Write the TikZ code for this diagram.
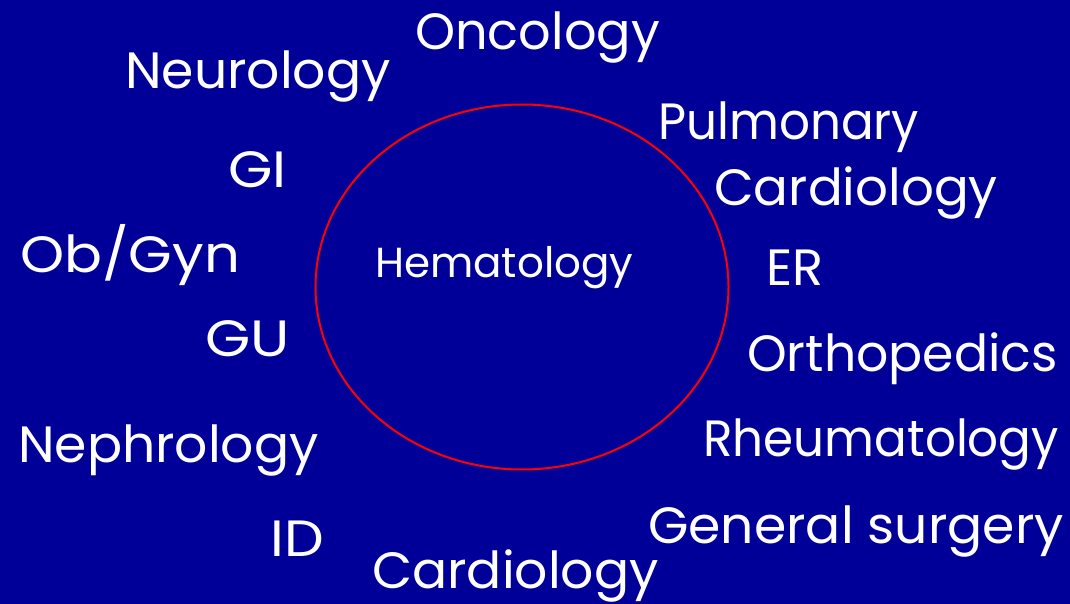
\documentclass[tikz,border=0pt]{standalone}
\usepackage{fontspec}
\usepackage{graphicx}
\setmainfont{Poppins}
\usetikzlibrary{shapes.geometric}
\definecolor{bg}{RGB}{0,0,153}
\definecolor{ring}{RGB}{255,0,0}
\newcommand{\sx}[2]{\scalebox{#1}[1]{#2}}
\begin{document}
\begin{tikzpicture}[x=1pt,y=-1pt,
  lbl/.style={text=white,inner sep=0pt,anchor=base west,font=\fontsize{51}{51}\selectfont},
  hem/.style={text=white,inner sep=0pt,anchor=base west,font=\fontsize{42}{42}\selectfont}]
\fill[bg] (0,0) rectangle (1070,604);
\useasboundingbox (0,0) rectangle (1070,604);
\node[draw=ring,line width=2pt,ellipse,minimum width=413,minimum height=365,inner sep=0pt] (e) at (522,287) {};
\node[hem] (h) at (375,277) {Hematology};
\node[lbl] (onc) at (415,50) {Oncology};
\node[lbl] (neu) at (125,89) {\sx{1.02}{Neurology}};
\node[lbl] (pul) at (658,140) {\sx{0.95}{Pulmonary}};
\node[lbl] (gi) at (228,187) {\sx{1.12}{GI}};
\node[lbl] (car1) at (714,205) {\sx{1.01}{Cardiology}};
\node[lbl] (ob) at (20,272) {\sx{1.1}{Ob/Gyn}};
\node[lbl] (er) at (766,285) {ER};
\node[lbl] (gu) at (205,356) {\sx{1.14}{GU}};
\node[lbl] (ort) at (747,371) {\sx{0.99}{Orthopedics}};
\node[lbl] (nep) at (18,462) {\sx{1.02}{Nephrology}};
\node[lbl] (rhe) at (703,456) {\sx{0.95}{Rheumatology}};
\node[lbl] (id) at (270,556) {\sx{1.1}{ID}};
\node[lbl] (gen) at (648,543) {\sx{1.02}{General surgery}};
\node[lbl] (car2) at (372,588) {\sx{1.02}{Cardiology}};
\end{tikzpicture}
\end{document}
